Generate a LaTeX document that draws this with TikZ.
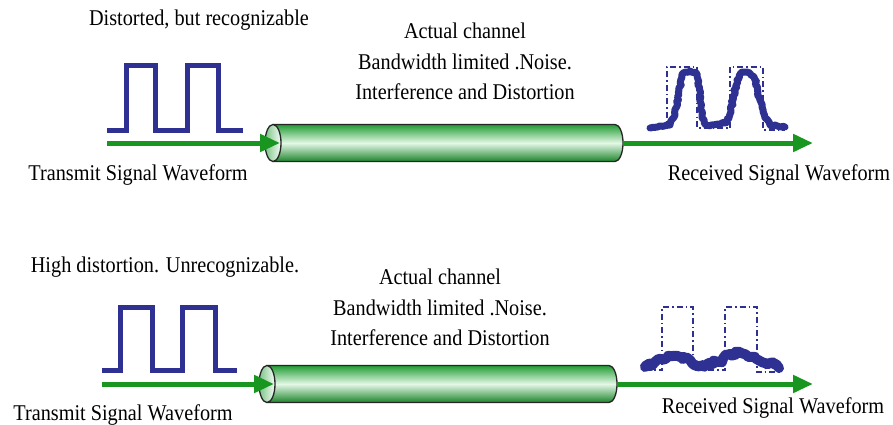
\documentclass[tikz,border=0pt]{standalone}
\usepackage{fontspec}
\setmainfont{Liberation Serif}[FakeStretch=0.9]
\usetikzlibrary{positioning}
\usetikzlibrary{arrows.meta}
\usetikzlibrary{decorations.pathmorphing}
\definecolor{pulse colour}{RGB}{46,49,146}
\definecolor{flow colour}{RGB}{24,150,32}
\definecolor{pipe dark}{RGB}{34,156,52}
\definecolor{pipe light}{RGB}{228,248,230}
\tikzset{
    % Square waves and the green signal path
    pulse/.style={draw=pulse colour, line width=5},
    ideal/.style={draw=pulse colour, line width=1.8,
        dash pattern=on 6pt off 3pt on 1.5pt off 3pt},
    noisy/.style={draw=pulse colour, line cap=round, line join=round,
        decorate, decoration={random steps, segment length=2.5, amplitude=#1}},
    signal flow/.style={draw=flow colour, line width=5,
        -{Triangle[length=20,width=17]}},
    caption text/.style={font=\fontsize{22.5}{30.5}\selectfont, align=center, inner sep=0},
    %
    % The channel: a pipe lying on its side, open end on the left
    pipe/.pic={
        \shadedraw [top color=pipe dark, bottom color=pipe dark!85!black,
            middle color=pipe light, draw=black!85, line width=1.3]
            (0,18.5) -- (342,18.5)
            arc[start angle=90, end angle=-90, x radius=8, y radius=18.5]
            -- (0,-18.5) -- cycle;
        \shadedraw [left color=pipe dark!60!white, right color=pipe light!40!white,
            draw=black!85, line width=1.3]
            (0,0) ellipse[x radius=8, y radius=18.5];
        \coordinate (-in) at (7,0);
        \coordinate (-out) at (350,0);
    },
}

\begin{document}
\begin{tikzpicture}[x=1pt, y=1pt]
\pgfmathsetseed{11}
\useasboundingbox (0,0) rectangle (893,-425);

% upper row: distorted, but still readable
\node [caption text, anchor=base] (note top) at (199,-26) {Distorted, but recognizable};
\node [caption text, anchor=north] (channel top) at (465,-23)
    {Actual channel\\Bandwidth limited .Noise.\\Interference and Distortion};
\node [caption text, anchor=base] (tx top) at (138,-180) {Transmit Signal Waveform};
\node [caption text, anchor=base] (rx top) at (779,-180) {Received Signal Waveform};

\draw [pulse] (107,-130) -- (126,-130) -- (126,-66) -- (155,-66) -- (155,-130)
    -- (187,-130) -- (187,-66) -- (218,-66) -- (218,-130) -- (243,-130);

\coordinate (src top) at (107,-143);
\coordinate (dst top) at (813,-143);
\pic (pipe top) at (273,-143) {pipe};
\draw [signal flow] (src top) -- (pipe top-in);
\draw [signal flow] (pipe top-out) -- (dst top);

\draw [ideal] (650,-128) -- (667,-128) -- (667,-67) -- (697,-67) -- (697,-128)
    -- (730,-128) -- (730,-67) -- (763,-67) -- (763,-130) -- (785,-130);
\draw [noisy=1.2, line width=7] plot coordinates {
    (650,-128) (660,-126) (670,-125) (675,-115) (679,-90) (683,-73) (690,-71)
    (697,-74) (700,-95) (702,-118) (706,-125) (718,-124) (727,-122) (733,-100)
    (737,-80) (742,-72) (750,-73) (755,-80) (760,-100) (765,-118) (770,-125)
    (785,-127)};

% lower row: too much distortion
\node [caption text, anchor=base] (note bot) at (165,-272) {High distortion. Unrecognizable.};
\node [caption text, anchor=north] (channel bot) at (440,-269)
    {Actual channel\\Bandwidth limited .Noise.\\Interference and Distortion};
\node [caption text, anchor=base] (tx bot) at (123,-420) {Transmit Signal Waveform};
\node [caption text, anchor=base] (rx bot) at (773,-413) {Received Signal Waveform};

\draw [pulse] (102,-370) -- (120,-370) -- (120,-307) -- (152,-307) -- (152,-370)
    -- (182,-370) -- (182,-307) -- (215,-307) -- (215,-370) -- (237,-370);

\coordinate (src bot) at (102,-384);
\coordinate (dst bot) at (813,-384);
\pic (pipe bot) at (267,-384) {pipe};
\draw [signal flow] (src bot) -- (pipe bot-in);
\draw [signal flow] (pipe bot-out) -- (dst bot);

\draw [ideal] (645,-370) -- (662,-370) -- (662,-307) -- (693,-307) -- (693,-370)
    -- (725,-370) -- (725,-307) -- (757,-307) -- (757,-372) -- (780,-372);
\draw [noisy=2.2, line width=10] plot coordinates {
    (645,-367) (655,-362) (667,-358) (680,-357) (690,-360) (700,-366) (710,-364)
    (720,-361) (730,-354) (740,-352) (750,-357) (760,-361) (770,-363) (779,-368)};

\end{tikzpicture}
\end{document}
